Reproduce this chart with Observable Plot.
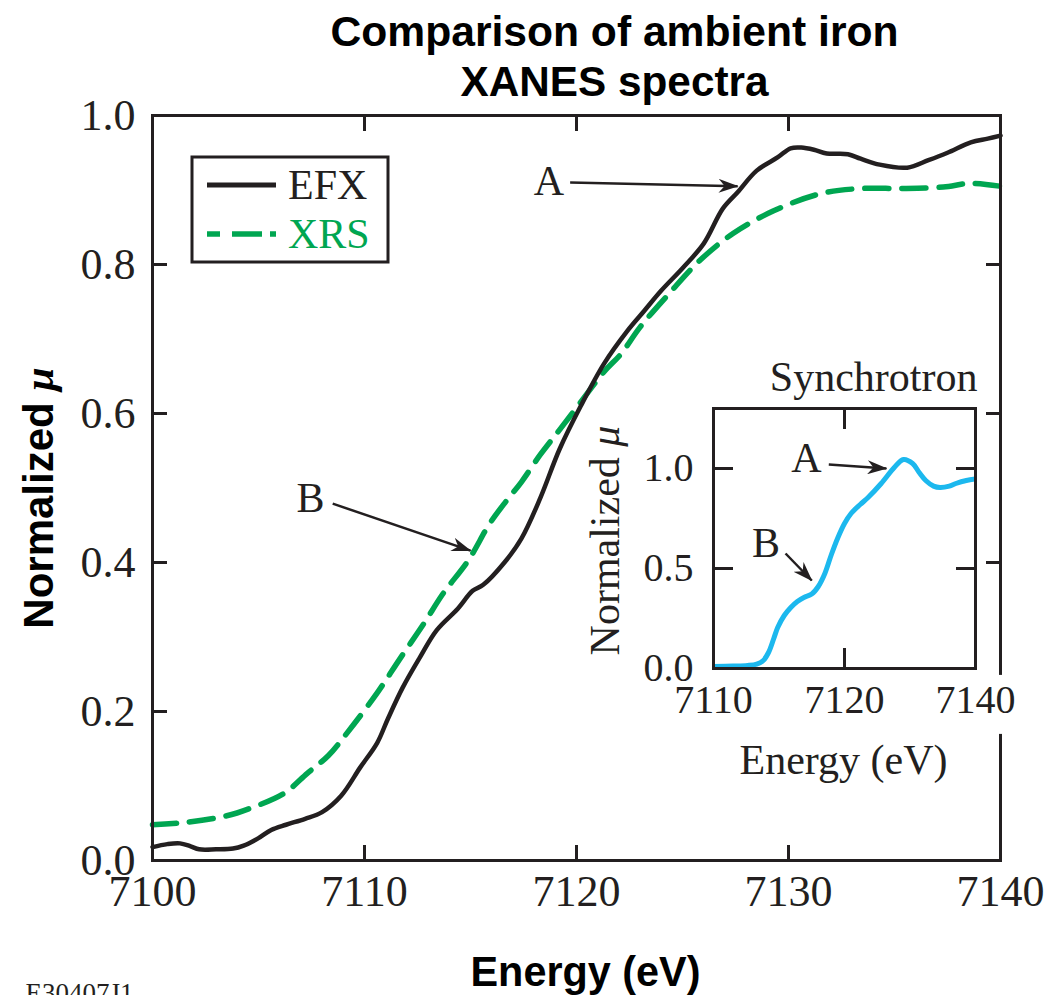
<!DOCTYPE html>
<html>
<head>
<meta charset="utf-8">
<script src="https://cdn.jsdelivr.net/npm/d3@7"></script>
<script src="https://cdn.jsdelivr.net/npm/@observablehq/plot@0.6"></script>
<style>
  html, body { margin: 0; padding: 0; background: #fff; }
  #wrap { position: relative; width: 1049px; height: 995px; overflow: hidden; background: #fff; }
  #wrap > svg { position: absolute; left: 0; top: 0; max-width: none; }
</style>
</head>
<body>
<div id="wrap"></div>
<script>
// ---------- data ----------
const efxEnergy = [7100.0, 7100.7, 7101.3, 7101.8, 7102.2, 7103.0, 7103.8, 7104.3, 7105.0, 7105.6, 7106.3, 7107.2, 7108.0, 7108.9, 7109.8, 7110.6, 7111.1, 7111.8, 7112.6, 7113.4, 7114.4, 7115.1, 7115.6, 7116.6, 7117.4, 7118.3, 7119.2, 7120.2, 7121.3, 7122.4, 7123.2, 7124.0, 7125.0, 7126.0, 7126.9, 7127.6, 7128.5, 7129.5, 7130.1, 7130.6, 7131.2, 7131.8, 7132.8, 7133.4, 7134.3, 7135.6, 7136.6, 7137.5, 7138.6, 7139.4, 7140.0];
const efxMu = [0.018, 0.022, 0.023, 0.019, 0.015, 0.015, 0.016, 0.020, 0.030, 0.041, 0.048, 0.056, 0.065, 0.087, 0.125, 0.158, 0.190, 0.232, 0.272, 0.309, 0.338, 0.362, 0.370, 0.400, 0.432, 0.487, 0.552, 0.610, 0.667, 0.711, 0.738, 0.765, 0.795, 0.828, 0.875, 0.897, 0.926, 0.944, 0.956, 0.957, 0.954, 0.949, 0.948, 0.942, 0.934, 0.930, 0.940, 0.950, 0.964, 0.969, 0.973];

const xrsEnergy = [7100.0, 7101.5, 7103.5, 7104.6, 7106.2, 7107.3, 7108.3, 7109.2, 7110.6, 7111.7, 7112.8, 7113.7, 7114.9, 7115.9, 7116.7, 7117.4, 7118.3, 7119.2, 7119.9, 7121.3, 7122.1, 7123.0, 7124.4, 7125.8, 7127.4, 7129.3, 7131.5, 7133.4, 7135.4, 7137.3, 7138.6, 7140.0];
const xrsMu = [0.048, 0.051, 0.060, 0.070, 0.090, 0.117, 0.141, 0.172, 0.225, 0.272, 0.318, 0.358, 0.403, 0.452, 0.483, 0.508, 0.545, 0.578, 0.604, 0.656, 0.680, 0.716, 0.762, 0.805, 0.842, 0.872, 0.895, 0.902, 0.902, 0.904, 0.909, 0.905];

const synEnergy = [7110.0, 7111.5, 7112.6, 7113.3, 7113.8, 7114.2, 7114.6, 7114.9, 7115.4, 7115.9, 7116.4, 7116.9, 7117.5, 7118.0, 7118.5, 7119.0, 7119.5, 7120.0, 7120.5, 7121.2, 7121.8, 7122.8, 7123.8, 7124.5, 7125.2, 7125.7, 7126.2, 7126.8, 7127.3, 7128.0, 7128.5, 7129.3, 7130.2];
const synMu = [0.010, 0.012, 0.015, 0.022, 0.040, 0.080, 0.150, 0.205, 0.265, 0.305, 0.335, 0.355, 0.372, 0.410, 0.475, 0.570, 0.655, 0.725, 0.775, 0.820, 0.855, 0.925, 1.005, 1.045, 1.025, 0.980, 0.940, 0.912, 0.905, 0.912, 0.925, 0.940, 0.950];

const seriesNames = ["EFX", "XRS"];
const seriesColors = ["#231f20", "#00a651"];
const insetColor = "#1cb8ee";

const mainXTicks = [7100, 7110, 7120, 7130, 7140];
const mainYTicks = [0, 0.2, 0.4, 0.6, 0.8, 1.0];
const insetXTicks = [7110, 7120, 7130];
const insetXTickLabels = ["7110", "7120", "7140"];
const insetYTicks = [0, 0.5, 1.0];

const titleLines = ["Comparison of ambient iron", "XANES spectra"];
const mainXLabel = "Energy (eV)";
const mainYLabel = "Normalized μ";
const insetTitle = "Synchrotron";
const insetXLabel = "Energy (eV)";
const insetYLabel = "Normalized μ";
const figureId = "E30407J1";

// annotations (data coordinates)
const mainNoteText = ["A", "B"];
const mainNoteEnergy = [7118.7, 7107.45];
const mainNoteMu = [0.911, 0.486];
const mainArrowE1 = [7119.7, 7108.5];
const mainArrowM1 = [0.910, 0.479];
const mainArrowE2 = [7127.6, 7115.0];
const mainArrowM2 = [0.905, 0.416];

const insetNoteText = ["A", "B"];
const insetNoteEnergy = [7117.1, 7114.0];
const insetNoteMu = [1.05, 0.625];
const insetArrowE1 = [7118.8, 7115.5];
const insetArrowM1 = [1.02, 0.575];
const insetArrowE2 = [7123.2, 7117.5];
const insetArrowM2 = [1.00, 0.44];

// ---------- tables ----------
const efx = efxEnergy.map((e, i) => ({energy: e, mu: efxMu[i]}));
const xrs = xrsEnergy.map((e, i) => ({energy: e, mu: xrsMu[i]}));
const syn = synEnergy.map((e, i) => ({energy: e, mu: synMu[i]}));
const mainNotes = mainNoteText.map((t, i) => ({t, e: mainNoteEnergy[i], m: mainNoteMu[i]}));
const mainArrows = mainArrowE1.map((e, i) => ({e1: e, m1: mainArrowM1[i], e2: mainArrowE2[i], m2: mainArrowM2[i]}));
const insetNotes = insetNoteText.map((t, i) => ({t, e: insetNoteEnergy[i], m: insetNoteMu[i]}));
const insetArrows = insetArrowE1.map((e, i) => ({e1: e, m1: insetArrowM1[i], e2: insetArrowE2[i], m2: insetArrowM2[i]}));

const ink = "#231f20";
const serif = "'Liberation Serif', 'Times New Roman', serif";
const sans = "'Liberation Sans', Arial, sans-serif";

// ---------- main plot ----------
const main = Plot.plot({
  width: 1049, height: 995,
  marginLeft: 152, marginRight: 49, marginTop: 115, marginBottom: 135,
  x: {domain: [7100, 7140]},
  y: {domain: [0, 1]},
  style: {fontFamily: serif, fontSize: "44px", color: ink, background: "#fff", overflow: "visible"},
  marks: [
    Plot.line(xrs, {x: "energy", y: "mu", stroke: seriesColors[1], strokeWidth: 5.5, strokeDasharray: "24,13", curve: "catmull-rom"}),
    Plot.line(efx, {x: "energy", y: "mu", stroke: seriesColors[0], strokeWidth: 4.5, curve: "catmull-rom"}),
    Plot.frame({stroke: ink, strokeWidth: 3}),
    Plot.axisX(mainXTicks, {anchor: "bottom", tickSize: -15, tickPadding: 29, strokeWidth: 3, stroke: ink, label: null, tickFormat: d => String(d)}),
    Plot.axisX(mainXTicks, {anchor: "top", tickSize: -15, strokeWidth: 3, stroke: ink, label: null, tickFormat: () => ""}),
    Plot.axisY(mainYTicks, {anchor: "left", tickSize: -15, tickPadding: 32, strokeWidth: 3, stroke: ink, label: null, tickFormat: d3.format(".1f")}),
    Plot.axisY(mainYTicks, {anchor: "right", tickSize: -15, strokeWidth: 3, stroke: ink, label: null, tickFormat: () => ""}),
    Plot.text([titleLines[0]], {frameAnchor: "top", text: d => d, dx: 38, dy: -70, lineAnchor: "bottom", fontFamily: sans, fontWeight: "bold", fontSize: 42, fill: "#000", className: "ttl1"}),
    Plot.text([titleLines[1]], {frameAnchor: "top", text: d => d, dx: 38, dy: -20, lineAnchor: "bottom", fontFamily: sans, fontWeight: "bold", fontSize: 42, fill: "#000", className: "ttl2"}),
    Plot.text([mainXLabel], {frameAnchor: "bottom", text: d => d, dx: 9, dy: 125, lineAnchor: "bottom", fontFamily: sans, fontWeight: "bold", fontSize: 42, fill: "#000", className: "xttl"}),
    Plot.text([mainYLabel], {frameAnchor: "left", text: d => d, dx: -100, dy: 10, rotate: -90, textAnchor: "middle", lineAnchor: "bottom", fontFamily: sans, fontWeight: "bold", fontSize: 42, fill: "#000", className: "yttl"}),
    Plot.text([figureId], {frameAnchor: "bottom-left", text: d => d, dx: -127, dy: 141, textAnchor: "start", lineAnchor: "bottom", fontFamily: serif, fontSize: 27, fill: ink}),
    Plot.text(mainNotes, {x: "e", y: "m", text: "t", fontFamily: serif, fontSize: 42, fill: ink}),
    Plot.link(mainArrows, {x1: "e1", y1: "m1", x2: "e2", y2: "m2", stroke: ink, strokeWidth: 2.5, className: "annot-arrow"})
  ]
});

// ---------- inset plot ----------
const inset = Plot.plot({
  width: 1049, height: 995,
  marginLeft: 713, marginRight: 74, marginTop: 408, marginBottom: 327,
  x: {domain: [7110, 7130]},
  y: {domain: [0, 1.3]},
  style: {fontFamily: serif, fontSize: "40px", color: ink, background: "transparent", overflow: "visible"},
  marks: [
    Plot.line(syn, {x: "energy", y: "mu", stroke: insetColor, strokeWidth: 5, curve: "catmull-rom", clip: true}),
    Plot.frame({stroke: ink, strokeWidth: 3}),
    Plot.axisX(insetXTicks, {anchor: "bottom", tickSize: -20, tickPadding: 36, strokeWidth: 3, stroke: ink, label: null, tickFormat: (d, i) => insetXTickLabels[i]}),
    Plot.axisX(insetXTicks, {anchor: "top", tickSize: -20, strokeWidth: 3, stroke: ink, label: null, tickFormat: () => ""}),
    Plot.axisY(insetYTicks, {anchor: "left", tickSize: -20, tickPadding: 40, strokeWidth: 3, stroke: ink, label: null, tickFormat: d3.format(".1f")}),
    Plot.axisY(insetYTicks, {anchor: "right", tickSize: -20, strokeWidth: 3, stroke: ink, label: null, tickFormat: () => ""}),
    Plot.text([insetTitle], {frameAnchor: "top-right", text: d => d, dx: 2, dy: -18, textAnchor: "end", lineAnchor: "bottom", fontFamily: serif, fontSize: 42, fill: ink}),
    Plot.text([insetXLabel], {frameAnchor: "bottom", text: d => d, dx: -1, dy: 105, lineAnchor: "bottom", fontFamily: serif, fontSize: 42, fill: ink}),
    Plot.text([insetYLabel], {frameAnchor: "left", text: d => d, dx: -95, dy: 2, rotate: -90, textAnchor: "middle", lineAnchor: "bottom", fontFamily: serif, fontSize: 42, fill: ink, className: "iyttl"}),
    Plot.text(insetNotes, {x: "e", y: "m", text: "t", fontFamily: serif, fontSize: 42, fill: ink}),
    Plot.link(insetArrows, {x1: "e1", y1: "m1", x2: "e2", y2: "m2", stroke: ink, strokeWidth: 2.5, className: "annot-arrow"})
  ]
});

const wrap = document.getElementById("wrap");
wrap.appendChild(main);
wrap.appendChild(inset);

// ---------- styling touches ----------
function addArrowhead(svg, id) {
  const defs = d3.select(svg).insert("defs", ":first-child");
  defs.append("marker")
    .attr("id", id).attr("viewBox", "0 0 20 14").attr("refX", 19).attr("refY", 7)
    .attr("markerWidth", 20).attr("markerHeight", 14).attr("markerUnits", "userSpaceOnUse")
    .attr("orient", "auto")
    .append("path").attr("d", "M0,0 L20,7 L0,14 L6,7 Z").attr("fill", ink);
  d3.select(svg).selectAll(".annot-arrow path").attr("marker-end", `url(#${id})`);
}
addArrowhead(main, "ah-main");
addArrowhead(inset, "ah-inset");

d3.select(main).select(".ttl1 text").attr("textLength", 568).attr("lengthAdjust", "spacingAndGlyphs");
d3.select(main).select(".ttl2 text").attr("textLength", 308).attr("lengthAdjust", "spacingAndGlyphs");
d3.select(main).select(".xttl text").attr("textLength", 230).attr("lengthAdjust", "spacingAndGlyphs");

function italicMu(sel, weight) {
  const t = sel.select("text");
  const s = t.text();
  const base = s.slice(0, s.length - 1);
  t.text("");
  t.attr("text-anchor", "middle");
  t.append("tspan").text(base);
  t.append("tspan").attr("font-style", "italic").attr("font-family", serif).attr("font-weight", weight).text("μ");
}
italicMu(d3.select(main).select(".yttl"), "bold");
italicMu(d3.select(inset).select(".iyttl"), "normal");

// white box behind the inset's x tick labels (it breaks the main frame line, as in the original)
d3.select(inset).selectAll("text")
  .filter(function() { return insetXTickLabels.includes(this.textContent); })
  .each(function() {
    const b = this.getBBox();
    const tr = this.getAttribute("transform");
    const r = d3.select(this.parentNode).insert("rect", () => this)
      .attr("x", b.x - 2).attr("y", b.y - 2).attr("width", b.width + 4).attr("height", b.height + 14)
      .attr("fill", "#fff").attr("stroke", "none");
    if (tr) r.attr("transform", tr);
  });

// legend
const legend = d3.select(main).append("g").attr("class", "legend").attr("text-anchor", "start");
legend.append("rect").attr("x", 192).attr("y", 157).attr("width", 196).attr("height", 105)
  .attr("fill", "#fff").attr("stroke", ink).attr("stroke-width", 3);
const legY = [185, 234];
seriesNames.forEach((name, i) => {
  legend.append("line").attr("x1", 207).attr("x2", 276).attr("y1", legY[i]).attr("y2", legY[i])
    .attr("stroke", seriesColors[i]).attr("stroke-width", i === 0 ? 5 : 5.5)
    .attr("stroke-dasharray", i === 0 ? null : "13,12,30,8,14");
  legend.append("text").attr("x", 288).attr("y", legY[i] + 14).text(name)
    .attr("text-anchor", "start")
    .attr("fill", seriesColors[i]).attr("font-family", serif).attr("font-size", 42);
});
</script>
</body>
</html>
